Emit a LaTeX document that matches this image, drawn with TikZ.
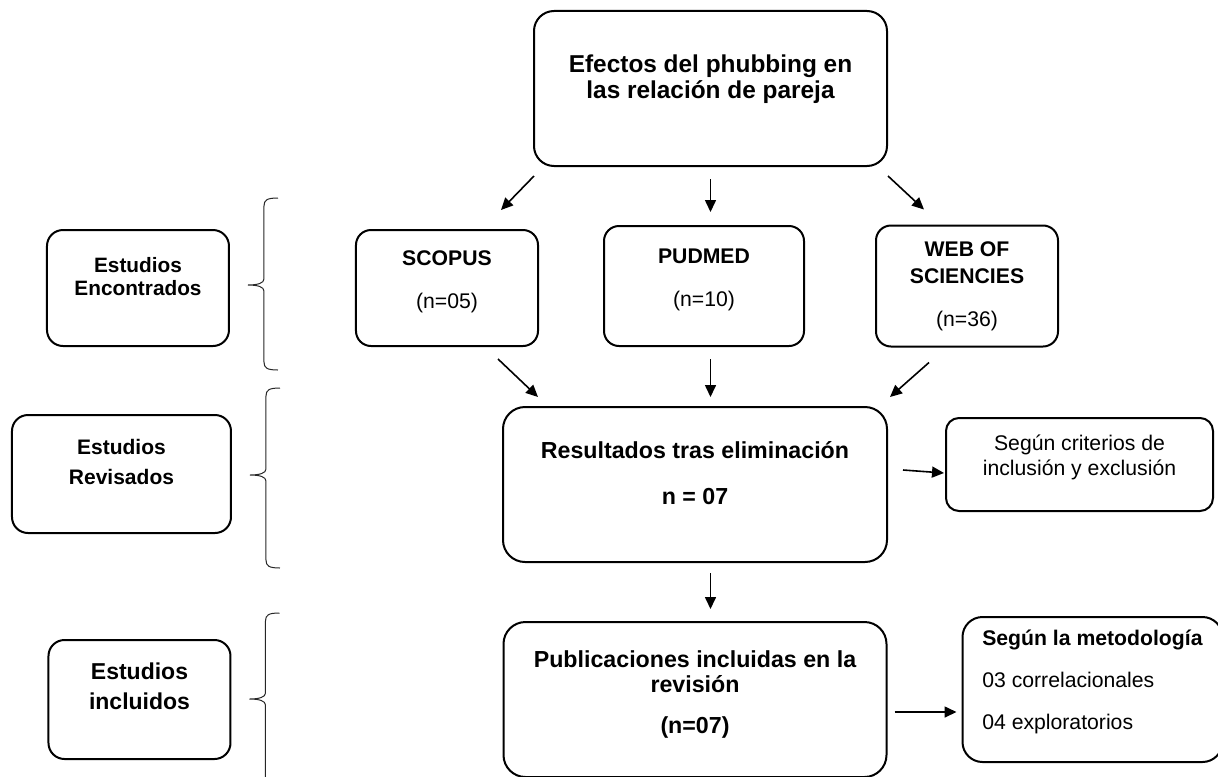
\documentclass[tikz,border=0pt]{standalone}
\usepackage{fontspec}
\setmainfont{Liberation Sans}
\usetikzlibrary{positioning,arrows.meta,calc}
\newcommand{\lowpad}[1]{\rule[-#1]{0pt}{#1}}
\tikzset{
  box/.style={draw,line width=1pt,rounded corners=8pt,align=center,inner sep=2pt},
  topbox/.style={box,rounded corners=10pt,minimum width=176.5pt,minimum height=77.5pt,font=\fontsize{12.2}{13}\selectfont\bfseries},
  dbbox/.style={box,rounded corners=7.5pt,minimum width=91pt,minimum height=58pt,font=\fontsize{10.6}{13.5}\selectfont},
  midbox/.style={box,rounded corners=11pt,minimum width=192pt,minimum height=77.5pt,font=\fontsize{11.6}{12.5}\selectfont\bfseries},
  sidebox/.style={box,minimum width=91pt,minimum height=58pt,font=\fontsize{10.4}{11.5}\selectfont\bfseries},
  notebox/.style={box,rounded corners=6.5pt,font=\fontsize{10.6}{12.5}\selectfont},
  arr/.style={-{Triangle[length=6pt,width=5.5pt]},line width=0.8pt},
  brc/.style={line width=0.5pt,draw=black!85,x=1pt,y=1pt}}

\begin{document}
\begin{tikzpicture}
\node[topbox] (topic) {Efectos del phubbing en\\las relación de pareja\lowpad{12pt}};
\useasboundingbox ([shift={(-266.5pt,5pt)}]topic.north west) rectangle ++(609pt,-388pt);
\node[dbbox, minimum width=100pt, minimum height=60pt, below=29pt of topic, xshift=-3.25pt] (pudmed) {\textbf{PUDMED}\\[8pt](n=10)\lowpad{8pt}};
\node[dbbox, left=32pt of pudmed, yshift=-1pt] (scopus) {\textbf{SCOPUS}\\[8pt](n=05)\lowpad{8pt}};
\node[dbbox, minimum height=60.5pt, right=35pt of pudmed] (wos) {\textbf{WEB OF}\\\textbf{SCIENCIES}\\[8pt](n=36)};
\node[midbox, below=29.5pt of pudmed, xshift=-4.5pt] (result) {Resultados tras eliminación\\[10.5pt]n = 07\lowpad{12pt}};
\node[midbox, minimum width=191.5pt, below=29pt of result] (pub) {Publicaciones incluidas en la\\revisión\\[8pt](n=07)\lowpad{7pt}};
\node[notebox, minimum width=133.5pt, minimum height=46.5pt, right=28.5pt of result, yshift=10pt] (crit) {Según criterios de\\inclusión y exclusión\lowpad{9pt}};
\node[notebox, rounded corners=10pt, minimum width=130pt, minimum height=72.5pt, align=left, font=\fontsize{10.6}{21}\selectfont, right=37pt of pub, yshift=5pt] (metod) {\textbf{Según la metodología}\\03 correlacionales\\04 exploratorios\lowpad{10pt}};
\node[sidebox, left=62.5pt of scopus] (found) {Estudios\\Encontrados\lowpad{12pt}};
\node[sidebox, minimum width=109.5pt, minimum height=59pt, font=\fontsize{10.5}{15}\selectfont\bfseries, left=135pt of result, yshift=5.25pt] (reviewed) {Estudios\\Revisados\lowpad{12pt}};
\node[sidebox, minimum height=59.5pt, font=\fontsize{11.5}{15}\selectfont\bfseries, left=135.5pt of pub] (included) {Estudios\\incluidos\lowpad{13pt}};
% search to databases
\draw[arr] ([shift={(0.5pt,-4.5pt)}]topic.south west) -- ([shift={(-19pt,9.5pt)}]scopus.north east);
\draw[arr, shorten <=6pt, shorten >=6.5pt] (topic.south) -- (topic.south |- pudmed.north);
\draw[arr] ([yshift=-4.5pt]topic.south east) -- ([shift={(24.5pt,7.5pt)}]wos.north west);
% databases to screening
\draw[arr] ([shift={(-20.5pt,-6pt)}]scopus.south east) -- ([shift={(18pt,4.5pt)}]result.north west);
\draw[arr, shorten <=6pt, shorten >=4.5pt] (topic.south |- pudmed.south) -- (topic.south |- result.north);
\draw[arr] ([shift={(27pt,-7.5pt)}]wos.south west) -- ([shift={(1pt,4.5pt)}]result.north east);
\draw[arr, shorten <=5pt, shorten >=6pt] (topic.south |- result.south) -- (topic.south |- pub.north);
\draw[arr] ([shift={(7.5pt,7.25pt)}]result.east) -- ([shift={(-0.5pt,-4.25pt)}]crit.west);
\draw[arr] ([shift={(3.5pt,-6.25pt)}]pub.east) -- ([shift={(-2.5pt,-11.25pt)}]metod.west);
% side braces
\draw[brc] ([shift={(24,45)}]found.east) .. controls +(-5.5,0) and +(0,3) .. ++(-7,-4) -- ++(0,-36.5)
  .. controls +(0,-2) and +(5,0) .. ++(-8,-3) .. controls +(5,0) and +(0,2) .. ++(8,-3) -- ++(0,-35.5)
  .. controls +(0,-3) and +(-5.5,0) .. ++(7,-4);
\draw[brc] ([shift={(24,43)}]reviewed.east) .. controls +(-5.5,0) and +(0,3) .. ++(-7,-4) -- ++(0,-36.5)
  .. controls +(0,-2) and +(5,0) .. ++(-8,-3) .. controls +(5,0) and +(0,2) .. ++(8,-3) -- ++(0,-39.5)
  .. controls +(0,-3) and +(-5.5,0) .. ++(7,-4);
\draw[brc] ([shift={(24,43.25)}]included.east) .. controls +(-5.5,0) and +(0,3) .. ++(-7,-4) -- ++(0,-36)
  .. controls +(0,-2) and +(5,0) .. ++(-8,-3) .. controls +(5,0) and +(0,2) .. ++(8,-3) -- ++(0,-36.25)
  .. controls +(0,-3) and +(-5.5,0) .. ++(7,-4);
\end{tikzpicture}
\end{document}
